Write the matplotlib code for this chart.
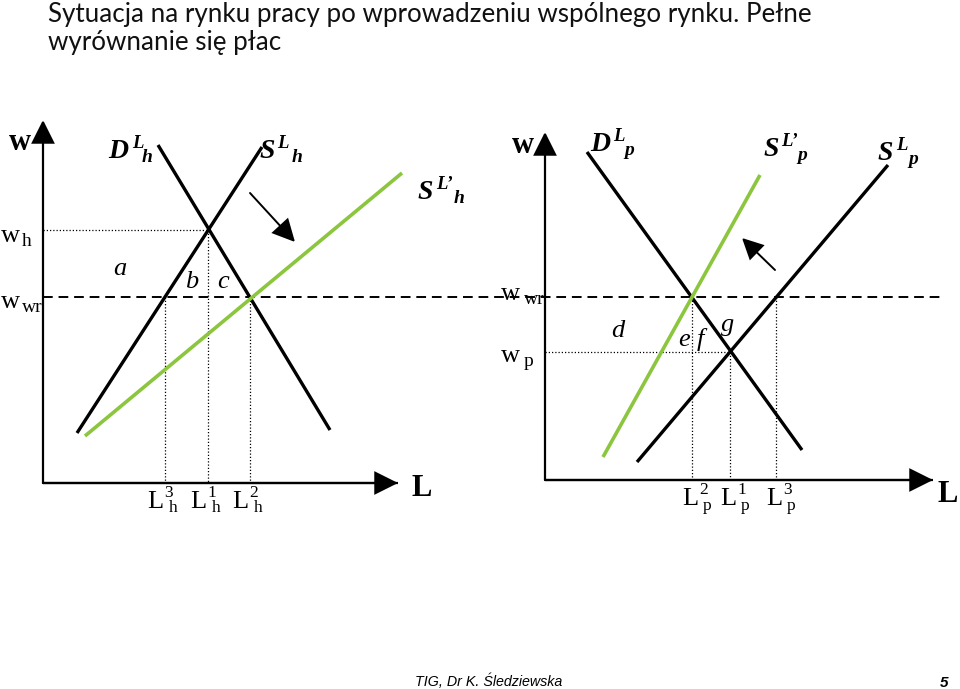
import matplotlib
matplotlib.use("Agg")
import matplotlib.pyplot as plt

# ---------------- data (canvas pixel coordinates, y downward) ----------------
# left panel (home country "h")
axis_h_x = [43, 43, 398]
axis_h_y = [120, 483, 483]
D_h_x = [158, 330];  D_h_y = [145, 430]
S_h_x = [77, 262];   S_h_y = [433, 147]
S2_h_x = [85, 402];  S2_h_y = [436, 173]
w_h_level = 230
L_h_ticks = [165, 208, 250]          # L3_h, L1_h, L2_h
L_h_top = [297, 230, 297]
L_h_names = ["3", "1", "2"]
shift_h_x = [250, 295]; shift_h_y = [193, 242]

# right panel (partner country "p")
axis_p_x = [545, 545, 933]
axis_p_y = [132, 480, 480]
D_p_x = [587, 802];  D_p_y = [152, 450]
S_p_x = [637, 888];  S_p_y = [462, 165]
S2_p_x = [603, 760]; S2_p_y = [457, 175]
w_p_level = 352
L_p_ticks = [692, 730, 776]          # L2_p, L1_p, L3_p
L_p_top = [297, 352, 297]
L_p_names = ["2", "1", "3"]
shift_p_x = [775, 742]; shift_p_y = [270, 238]

w_wr_level = 297
w_wr_x = [43, 945]

title = "Sytuacja na rynku pracy po wprowadzeniu wspólnego rynku. Pełne"
title2 = "wyrównanie się płac"
footer = "TIG, Dr K. Śledziewska"
page = "5"

GREEN = "#8cc63f"
SERIF = "Liberation Serif"

fig = plt.figure(figsize=(9.6, 6.89), dpi=100)
ax = fig.add_axes([0, 0, 1, 1])
ax.set_xlim(0, 960)
ax.set_ylim(689, 0)
ax.axis("off")

def arrow(x0, y0, x1, y1, ms, lw=1.5):
    ax.annotate("", xy=(x1, y1), xytext=(x0, y0),
                arrowprops=dict(arrowstyle="-|>,head_length=1.0,head_width=0.5",
                                mutation_scale=ms, lw=lw, color="black",
                                shrinkA=0, shrinkB=0, joinstyle="miter"))

# axes with arrowheads
for ax_x, ax_y in [(axis_h_x, axis_h_y), (axis_p_x, axis_p_y)]:
    ax.plot(ax_x[1:], ax_y[1:], color="black", lw=1.6, solid_capstyle="butt")
    arrow(ax_x[1], ax_y[1], ax_x[0], ax_y[0], 14.5, lw=1.6)
    arrow(ax_x[1], ax_y[1], ax_x[2], ax_y[2], 14.5, lw=1.6)

# dashed common wage
ax.plot(w_wr_x, [w_wr_level, w_wr_level], color="black", lw=1.4, dashes=(5, 3))

# dotted guides
ax.plot([axis_h_x[0], L_h_ticks[1]], [w_h_level, w_h_level], color="black", lw=0.9, dashes=(1, 1.6))
ax.plot([axis_p_x[0], L_p_ticks[1]], [w_p_level, w_p_level], color="black", lw=0.9, dashes=(1, 1.6))
for xs, tops, base in [(L_h_ticks, L_h_top, axis_h_y[1]), (L_p_ticks, L_p_top, axis_p_y[1])]:
    for x, tp in zip(xs, tops):
        ax.plot([x, x], [tp, base], color="black", lw=0.9, dashes=(1, 1.6))

# curves
ax.plot(D_h_x, D_h_y, color="black", lw=2.4, solid_capstyle="butt")
ax.plot(S_h_x, S_h_y, color="black", lw=2.4, solid_capstyle="butt")
ax.plot(S2_h_x, S2_h_y, color=GREEN, lw=2.6, solid_capstyle="butt")
ax.plot(D_p_x, D_p_y, color="black", lw=2.4, solid_capstyle="butt")
ax.plot(S_p_x, S_p_y, color="black", lw=2.4, solid_capstyle="butt")
ax.plot(S2_p_x, S2_p_y, color=GREEN, lw=2.6, solid_capstyle="butt")

# shift arrows
arrow(shift_h_x[0], shift_h_y[0], shift_h_x[1], shift_h_y[1], 14, lw=1.4)
arrow(shift_p_x[0], shift_p_y[0], shift_p_x[1], shift_p_y[1], 13, lw=1.4)

def t(x, y, s, size, style="normal", weight="normal", family=SERIF, **kw):
    return ax.text(x, y, s, fontsize=size, fontstyle=style, fontweight=weight,
                   family=family, ha="left", va="baseline", **kw)

def curve_label(x, y, base, sup, sub, dx_sup, dx_sub):
    t(x, y, base, 20, "italic", "bold")
    t(x + dx_sup, y - 10, sup, 13.5, "italic", "bold")
    t(x + dx_sub, y + 4, sub, 14, "italic", "bold")

# curve labels
curve_label(108, 158, "D", "L", "h", 24, 34)
curve_label(259, 158, "S", "L", "h", 18, 33)
curve_label(418, 199, "S", "L\u2019", "h", 18, 36)
curve_label(590, 151, "D", "L", "p", 23, 34)
curve_label(763, 156, "S", "L\u2019", "p", 18, 34)
curve_label(878, 160, "S", "L", "p", 18, 30)

# axis names
t(9, 150, "w", 22, weight="bold")
t(512, 153, "w", 22, weight="bold")
t(412, 496, "L", 22, weight="bold")
t(938, 502, "L", 22, weight="bold")

# wage labels
t(1, 242, "w", 19); t(22, 246, "h", 14)
t(1, 308, "w", 19); t(22, 312, "wr", 14)
t(501, 300, "w", 19); t(524, 304, "wr", 14)
t(501, 362, "w", 19); t(524, 366, "p", 14)

# area letters
for (x, y, s) in [(113, 275, "a"), (185, 288, "b"), (217, 288, "c"),
                  (611, 337, "d"), (678, 346, "e"), (697, 346, "f"), (721, 331, "g")]:
    t(x, y, s, 19, "italic")

# quantity tick labels
for x, n in zip(L_h_ticks, L_h_names):
    t(x - 18, 508, "L", 19); t(x - 1, 497, n, 12.5); t(x + 4, 512, "h", 12.5)
for x, n in zip(L_p_ticks, L_p_names):
    t(x - 10, 505, "L", 19); t(x + 7, 494, n, 12.5); t(x + 11, 510, "p", 12.5)

# title and footer
fig.canvas.draw()
tt = ax.text(48, 22, title, fontsize=16, family="Lato", ha="left", va="baseline",
             color="#111111")
tt2 = ax.text(48, 50, title2, fontsize=16, family="Lato", ha="left", va="baseline",
              color="#111111")
r = fig.canvas.get_renderer()
w = tt.get_window_extent(r).width
fs = 16 * 767 / w
tt.set_fontsize(fs); tt2.set_fontsize(fs)

ft = ax.text(415, 686, footer, fontsize=11, fontstyle="italic", family="Liberation Sans",
             ha="left", va="baseline")
w = ft.get_window_extent(r).width
ft.set_fontsize(11 * 147 / w)
ax.text(940, 687, page, fontsize=11, fontstyle="italic", fontweight="bold",
        family="Liberation Sans", ha="left", va="baseline")

fig.savefig("out.png", dpi=100)
